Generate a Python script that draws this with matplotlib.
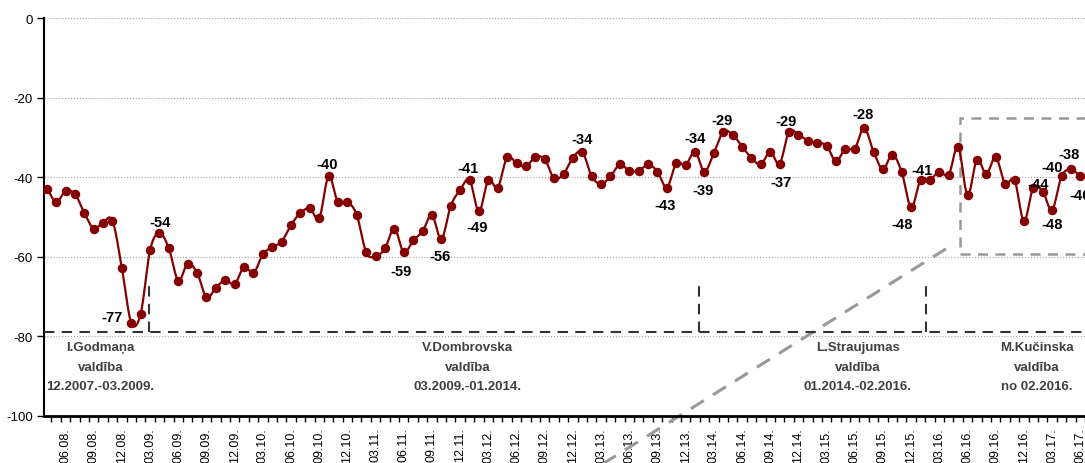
import numpy as np
import matplotlib
matplotlib.use('Agg')
import matplotlib.pyplot as plt
from matplotlib.patches import Rectangle

plt.rcParams['font.family'] = ['Liberation Sans', 'DejaVu Sans']
plt.rcParams['axes.unicode_minus'] = False

# monthly index, starts 04.2008
values = [-43.0, -46.3, -43.5, -44.2, -49.0, -52.9, -51.4, -50.9, -62.9, -76.6,
          -74.3, -58.3, -54.0, -57.9, -66.0, -61.7, -64.0, -70.2, -67.8, -65.8,
          -66.9, -62.5, -64.1, -59.4, -57.5, -56.2, -52.0, -49.0, -47.8, -50.3,
          -39.8, -46.3, -46.2, -49.5, -58.9, -59.9, -57.9, -52.9, -58.9, -55.9,
          -53.6, -49.5, -55.6, -47.2, -43.2, -40.7, -48.6, -40.7, -42.6, -35.0,
          -36.5, -37.3, -34.9, -35.5, -40.3, -39.2, -35.1, -33.6, -39.8, -41.7,
          -39.8, -36.8, -38.4, -38.4, -36.8, -38.6, -42.6, -36.5, -36.9, -33.6,
          -38.6, -33.9, -28.6, -29.3, -32.3, -35.2, -36.8, -33.6, -36.6, -28.6,
          -29.3, -30.8, -31.3, -32.1, -36.0, -32.8, -32.8, -27.6, -33.6, -38.0,
          -34.3, -38.8, -47.6, -40.7, -40.6, -38.6, -39.4, -32.3, -44.5, -35.6,
          -39.2, -35.0, -41.6, -40.7, -51.0, -42.6, -43.6, -48.2, -39.8, -38.0,
          -39.6]

tick_labels = ['06.08.', '09.08.', '12.08.', '03.09.', '06.09.', '09.09.', '12.09.',
               '03.10.', '06.10.', '09.10.', '12.10.', '03.11.', '06.11.', '09.11.',
               '12.11.', '03.12.', '06.12.', '09.12.', '12.12.', '03.13.', '06.13.',
               '09.13.', '12.13.', '03.14.', '06.14.', '09.14.', '12.14.', '03.15.',
               '06.15.', '09.15.', '12.15.', '03.16.', '06.16.', '09.16.', '12.16.',
               '03.17.', '06.17.']

# labelled points: index -> offset in pixels (dx, dy)
labelled = {9: (-19, 6), 12: (1, 11), 30: (-1, 12), 38: (-3, -19), 42: (-1, -17),
            45: (-2, 12), 46: (-2, -16), 57: (0, 13), 66: (-2, -17), 69: (0, 14),
            70: (-1, -18), 72: (-1, 12), 78: (1, -18), 79: (-3, 11), 87: (-1, 14),
            92: (-9, -17), 93: (1, 10), 106: (-5, 8), 107: (0, -14), 108: (-9, 9),
            109: (-2, 15), 110: (0, -19)}

governments = ['I.Godmaņa\nvaldība\n12.2007.-03.2009.',
               'V.Dombrovska\nvaldība\n03.2009.-01.2014.',
               'L.Straujumas\nvaldība\n01.2014.-02.2016.',
               'M.Kučinska\nvaldība\nno 02.2016.']
gov_x = [5.7, 44.8, 86.3, 105.4]
gov_changes = [10.9, 69.4, 93.6]


def catmull_rom(y, n=12):
    y = np.asarray(y)
    xs, ys = [], []
    for i in range(len(y) - 1):
        p0 = y[i - 1] if i > 0 else y[i]
        p1, p2 = y[i], y[i + 1]
        p3 = y[i + 2] if i + 2 < len(y) else y[i + 1]
        t = np.linspace(0, 1, n, endpoint=False)
        seg = 0.5 * (2 * p1 + (-p0 + p2) * t + (2 * p0 - 5 * p1 + 4 * p2 - p3) * t ** 2
                     + (-p0 + 3 * p1 - 3 * p2 + p3) * t ** 3)
        xs.append(i + t)
        ys.append(seg)
    xs.append([len(y) - 1])
    ys.append([y[-1]])
    return np.concatenate(xs), np.concatenate(ys)


x = np.arange(len(values))
fig = plt.figure(figsize=(10.85, 4.64), dpi=100)
ax = fig.add_axes([44 / 1085, 47 / 464, 1041 / 1085, 398 / 464])

red = '#850000'
sx, sy = catmull_rom(values)
ax.plot(sx, sy, color=red, lw=1.6, zorder=4)
ax.plot(x, values, 'o', color=red, ms=5.8, zorder=5)

for i, (dx, dy) in labelled.items():
    ax.annotate(f'{values[i]:.0f}', (x[i], values[i]), xytext=(dx, dy),
                textcoords='offset pixels', ha='center', va='center',
                fontsize=10.5, fontweight='bold', color='black', zorder=6)

# government periods
dash_kw = dict(color='#333333', lw=1.5, dashes=(5, 3.5))
ax.axhline(-78.8, **dash_kw, zorder=3)
for g in gov_changes:
    ax.plot([g, g], [-78.8, -66], **dash_kw, zorder=3)
for gx, txt in zip(gov_x, governments):
    ax.text(gx, -87.6, txt, ha='center', va='center', fontsize=9.5,
            fontweight='bold', color='#404040', linespacing=1.8)

# zoom box and connector
ax.add_patch(Rectangle((97.2, -59.2), 20, 34.1, fill=False, edgecolor='#999999',
                       lw=1.8, ls=(0, (4, 3)), zorder=2))
ax.plot([95.7, 59.2], [-58.0, -112.0], color='#999999', lw=2.2,
        dashes=(5, 3.5), clip_on=False, zorder=2)

ax.set_xlim(-0.29, 110.18)
ax.set_ylim(-100, 0)
ax.set_yticks(range(-100, 1, 20))
ax.yaxis.grid(True, color='#a0a0a0', ls=':', lw=0.8)
ax.set_axisbelow(True)

ax.set_xticks(np.arange(2, 2 + 3 * len(tick_labels), 3))
ax.set_xticklabels(tick_labels, rotation=90, fontsize=9)
ax.set_xticks(np.arange(0.5, 111, 1), minor=True)
ax.tick_params(axis='x', which='major', length=0, pad=8)
ax.tick_params(axis='x', which='minor', length=4, width=1, direction='out')
ax.tick_params(axis='y', length=5, width=1, labelsize=9.5, pad=3)

for s in ['top', 'right']:
    ax.spines[s].set_visible(False)
ax.spines['left'].set_linewidth(1.5)
ax.spines['bottom'].set_linewidth(2)

fig.savefig('out.png', dpi=100)
